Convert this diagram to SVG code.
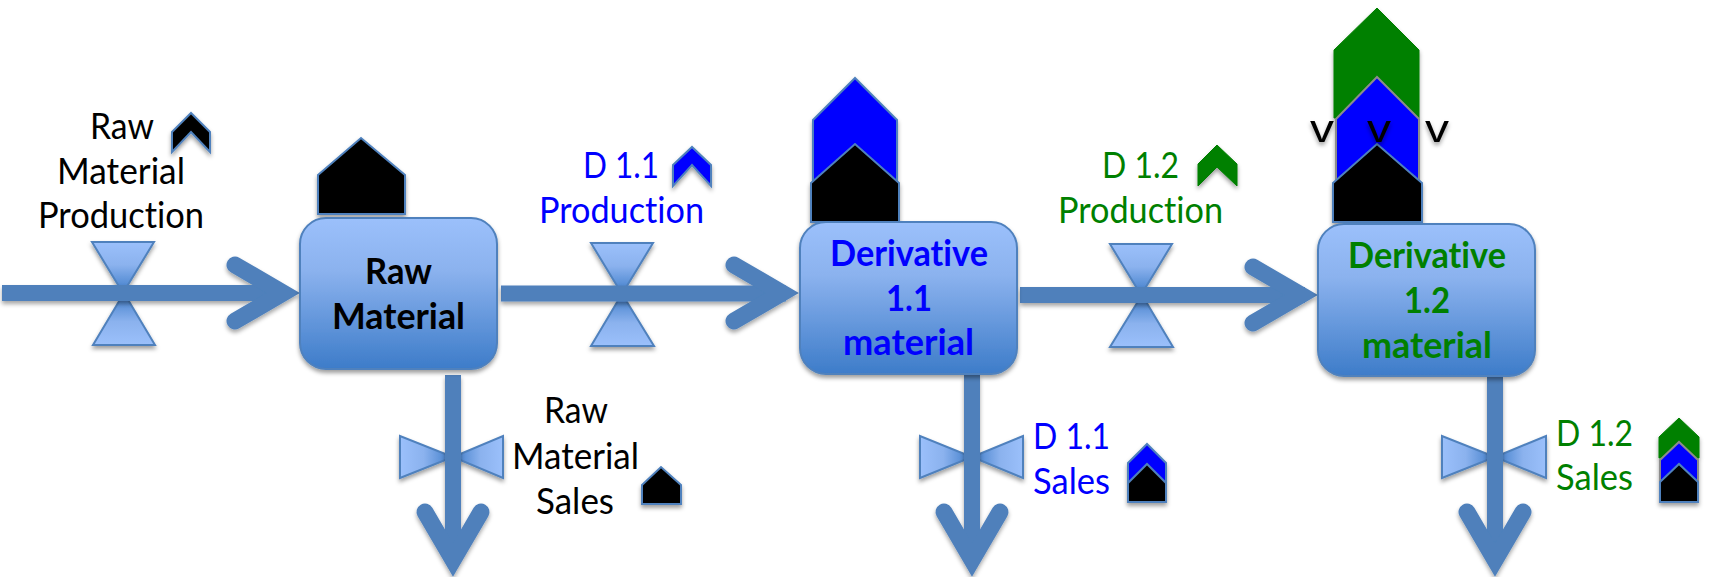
<svg xmlns="http://www.w3.org/2000/svg" width="1710" height="577" viewBox="0 0 1710 577">
<defs>
<filter id="sh" x="-20%" y="-20%" width="140%" height="150%"><feDropShadow dx="0" dy="3" stdDeviation="2.2" flood-color="#000" flood-opacity="0.38"/></filter>
<filter id="ln" filterUnits="userSpaceOnUse" x="0" y="0" width="1710" height="577"><feDropShadow dx="0" dy="3" stdDeviation="2.2" flood-color="#000" flood-opacity="0.35"/></filter>
<linearGradient id="box" x1="0" y1="0" x2="0" y2="1"><stop offset="0" stop-color="#9bc0fb"/><stop offset="0.35" stop-color="#8bb2ee"/><stop offset="1" stop-color="#3d7cc9"/></linearGradient>
<linearGradient id="vd" x1="0" y1="0" x2="0" y2="1"><stop offset="0" stop-color="#9bc0fb"/><stop offset="0.45" stop-color="#8bb2ee"/><stop offset="1" stop-color="#3d7cc9"/></linearGradient>
<linearGradient id="vu" x1="0" y1="1" x2="0" y2="0"><stop offset="0" stop-color="#9bc0fb"/><stop offset="0.45" stop-color="#8bb2ee"/><stop offset="1" stop-color="#3d7cc9"/></linearGradient>
<linearGradient id="vr" x1="0" y1="0" x2="1" y2="0"><stop offset="0" stop-color="#9bc0fb"/><stop offset="0.45" stop-color="#8bb2ee"/><stop offset="1" stop-color="#3d7cc9"/></linearGradient>
<linearGradient id="vl" x1="1" y1="0" x2="0" y2="0"><stop offset="0" stop-color="#9bc0fb"/><stop offset="0.45" stop-color="#8bb2ee"/><stop offset="1" stop-color="#3d7cc9"/></linearGradient>
</defs>
<style>
text{font-family:Lato,"Open Sans","Liberation Sans",sans-serif;font-size:36px;font-variant-ligatures:none}
.b{font-weight:700}
.k{fill:#000}.bl{fill:#0000ff}.gr{fill:#008000}
.flow{fill:none;stroke:#4f80bb;stroke-width:16}
.head{fill:none;stroke:#4f80bb;stroke-width:17;stroke-linecap:round;stroke-linejoin:miter;stroke-miterlimit:4}
.tri{stroke:#4f81bd;stroke-width:2;stroke-linejoin:miter}
.node{fill:url(#box);stroke:#4f81bd;stroke-width:2}
.hk{fill:#000;stroke:#4f81bd;stroke-width:2}
.hb{fill:#0000ff;stroke:#4f81bd;stroke-width:2}
.hbg{fill:#0000ff;stroke:#8c8c8c;stroke-width:2}
.hg{fill:#008000;stroke:#008000;stroke-width:1}
.vv{font-family:"Liberation Sans",sans-serif;font-size:38px;fill:#000}
</style>

<g id="valve-raw-production" filter="url(#sh)">
<polygon class="tri" fill="url(#vd)" points="92,242 154,242 123,293"/>
<polygon class="tri" fill="url(#vu)" points="93,345 155,345 124,293"/>
</g>
<g id="valve-d11-production" filter="url(#sh)">
<polygon class="tri" fill="url(#vd)" points="591,243 653,243 622,294"/>
<polygon class="tri" fill="url(#vu)" points="591,346 654,346 622,294"/>
</g>
<g id="valve-d12-production" filter="url(#sh)">
<polygon class="tri" fill="url(#vd)" points="1110,244 1172,244 1141,295"/>
<polygon class="tri" fill="url(#vu)" points="1110,347 1173,347 1142,295"/>
</g>
<g id="valve-raw-sales" filter="url(#sh)">
<polygon class="tri" fill="url(#vr)" points="400,436 400,478 453,457"/>
<polygon class="tri" fill="url(#vl)" points="503,436 503,478 453,457"/>
</g>
<g id="valve-d11-sales" filter="url(#sh)">
<polygon class="tri" fill="url(#vr)" points="920,436 920,478 972,457"/>
<polygon class="tri" fill="url(#vl)" points="1023,436 1023,478 972,457"/>
</g>
<g id="valve-d12-sales" filter="url(#sh)">
<polygon class="tri" fill="url(#vr)" points="1442,436 1442,478 1495,457"/>
<polygon class="tri" fill="url(#vl)" points="1546,436 1546,478 1495,457"/>
</g>

<g id="connectors" filter="url(#ln)">
<path class="flow" d="M2,293H285"/><polyline class="head" points="235,265 283,293 235,321"/>
<path class="flow" d="M501,293.500H786"/><polyline class="head" points="734,265 782,293 734,321"/>
<path class="flow" d="M1020,295H1305"/><polyline class="head" points="1253,267 1301,295 1253,323"/>
<path class="flow" d="M453,375V562"/><polyline class="head" points="425,512 453,560 481,512"/>
<path class="flow" d="M972,375V562"/><polyline class="head" points="944,512 972,560 1000,512"/>
<path class="flow" d="M1495,377V562"/><polyline class="head" points="1467,512 1495,560 1523,512"/>
</g>

<g id="stock-raw-level" filter="url(#sh)"><polygon class="hk" points="318,175 361,138 405,175 405,214 318,214"/></g>
<g id="stock-raw">
<rect class="node" x="300" y="218" width="197" height="151" rx="26" filter="url(#sh)"/>
<text class="b k" x="365" y="284" textLength="67" lengthAdjust="spacingAndGlyphs">Raw</text>
<text class="b k" x="332" y="329" textLength="133" lengthAdjust="spacingAndGlyphs">Material</text>
</g>

<g id="stock-d11-level" filter="url(#sh)">
<polygon class="hb" points="813,120 855,78 897,120 897,182 813,182"/>
<polygon class="hk" points="811,183 855,144 899,183 899,222 811,222"/>
</g>
<g id="stock-d11">
<rect class="node" x="800" y="222" width="217" height="152" rx="26" filter="url(#sh)"/>
<text class="b bl" x="830" y="266" textLength="158" lengthAdjust="spacingAndGlyphs">Derivative</text>
<text class="b bl" x="886" y="311" textLength="46" lengthAdjust="spacingAndGlyphs">1.1</text>
<text class="b bl" x="843" y="355" textLength="131" lengthAdjust="spacingAndGlyphs">material</text>
</g>

<g id="stock-d12-level" filter="url(#sh)">
<polygon class="hg" points="1334,50 1377,8 1419,50 1419,118 1334,118"/>
<polygon class="hbg" points="1336,119 1377,77 1419,119 1419,182 1336,182"/>
<polygon class="hk" points="1333,183 1377,144 1422,183 1422,222 1333,222"/>
</g>
<g id="stock-d12">
<rect class="node" x="1318" y="224" width="217" height="152" rx="26" filter="url(#sh)"/>
<text class="b gr" x="1348" y="268" textLength="158" lengthAdjust="spacingAndGlyphs">Derivative</text>
<text class="b gr" x="1404" y="313" textLength="46" lengthAdjust="spacingAndGlyphs">1.2</text>
<text class="b gr" x="1362" y="358" textLength="130" lengthAdjust="spacingAndGlyphs">material</text>
</g>

<g id="constraint-marks" filter="url(#sh)">
<text class="vv" x="1310" y="142" textLength="24" lengthAdjust="spacingAndGlyphs">v</text>
<text class="vv" x="1367" y="142" textLength="24" lengthAdjust="spacingAndGlyphs">v</text>
<text class="vv" x="1425" y="142" textLength="24" lengthAdjust="spacingAndGlyphs">v</text>
</g>

<g id="label-raw-production">
<text class="k" x="90" y="139" textLength="64" lengthAdjust="spacingAndGlyphs">Raw</text>
<text class="k" x="57" y="184" textLength="128" lengthAdjust="spacingAndGlyphs">Material</text>
<text class="k" x="38" y="228" textLength="166" lengthAdjust="spacingAndGlyphs">Production</text>
<polygon class="hk" filter="url(#sh)" points="172,132 191,113 210,132 210,152 191,132 172,152"/>
</g>
<g id="label-d11-production">
<text class="bl" x="583" y="178" textLength="76" lengthAdjust="spacingAndGlyphs">D 1.1</text>
<text class="bl" x="539" y="223" textLength="165" lengthAdjust="spacingAndGlyphs">Production</text>
<polygon class="hb" filter="url(#sh)" points="673,165 692,147 711,165 711,186 692,165 673,186"/>
</g>
<g id="label-d12-production">
<text class="gr" x="1102" y="178" textLength="77" lengthAdjust="spacingAndGlyphs">D 1.2</text>
<text class="gr" x="1058" y="223" textLength="165" lengthAdjust="spacingAndGlyphs">Production</text>
<polygon class="hg" filter="url(#sh)" points="1198,164 1217,145 1237,164 1237,186 1217,167 1198,186"/>
</g>
<g id="label-raw-sales">
<text class="k" x="544" y="423" textLength="64" lengthAdjust="spacingAndGlyphs">Raw</text>
<text class="k" x="512" y="469" textLength="127" lengthAdjust="spacingAndGlyphs">Material</text>
<text class="k" x="536" y="514" textLength="78" lengthAdjust="spacingAndGlyphs">Sales</text>
<polygon class="hk" filter="url(#sh)" points="642,485 661,467 681,485 681,504 642,504"/>
</g>
<g id="label-d11-sales">
<text class="bl" x="1033" y="449" textLength="77" lengthAdjust="spacingAndGlyphs">D 1.1</text>
<text class="bl" x="1033" y="494" textLength="77" lengthAdjust="spacingAndGlyphs">Sales</text>
<g filter="url(#sh)">
<polygon class="hb" points="1128,463 1147,444 1166,463 1166,484 1128,484"/>
<polygon class="hk" points="1128,483 1147,464 1166,483 1166,502 1128,502"/>
</g>
</g>
<g id="label-d12-sales">
<text class="gr" x="1556" y="446" textLength="77" lengthAdjust="spacingAndGlyphs">D 1.2</text>
<text class="gr" x="1556" y="490" textLength="77" lengthAdjust="spacingAndGlyphs">Sales</text>
<g filter="url(#sh)">
<polygon class="hg" points="1659,437 1679,418 1699,437 1699,458 1659,458"/>
<polygon class="hbg" points="1660,460 1679,442 1698,460 1698,482 1660,482"/>
<polygon class="hk" points="1660,482 1679,464 1698,482 1698,502 1660,502"/>
</g>
</g>
</svg>
